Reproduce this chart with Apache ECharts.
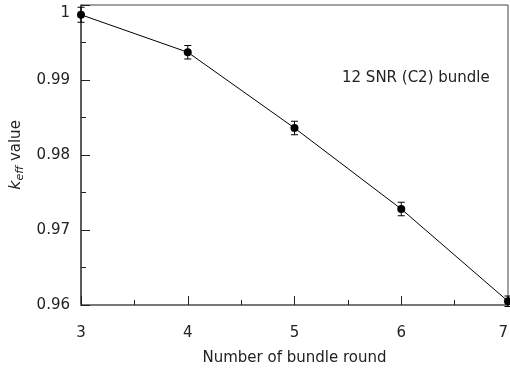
<!DOCTYPE html>
<html><head><meta charset="utf-8">
<script src="https://cdn.jsdelivr.net/npm/echarts@6/dist/echarts.min.js"></script>
<style>html,body{margin:0;padding:0;background:#fff}#c{width:510px;height:368px}</style>
</head><body><div id="c"></div>
<script>
const rounds = [3, 4, 5, 6, 7];
const keff = [0.9987, 0.9937, 0.9836, 0.9728, 0.9605];
const errs = [0.0010, 0.0009, 0.0009, 0.0009, 0.0007];
const xTicks = [3, 4, 5, 6, 7];
const yTicks = [0.96, 0.97, 0.98, 0.99, 1];
const note = '12 SNR (C2) bundle';

const FONT = 'DejaVu Sans';
const chart = echarts.init(document.getElementById('c'), null, {renderer: 'canvas'});
const pts = rounds.map((r, i) => [r, keff[i]]);
const errData = rounds.map((r, i) => [r, keff[i] - errs[i], keff[i] + errs[i]]);

chart.setOption({
  animation: false,
  grid: {left: 81, right: 2, top: 5, bottom: 63, show: true, borderColor: '#444', borderWidth: 1,
    outerBoundsMode: 'none', containLabel: false},
  xAxis: {
    type: 'value', min: 3, max: 7, interval: 1,
    name: 'Number of bundle round', nameLocation: 'middle', nameGap: 46,
    nameTextStyle: {fontFamily: FONT, fontSize: 15, color: '#222'},
    axisLine: {show: true, lineStyle: {color: '#777', width: 2}},
    axisTick: {show: true, inside: true, length: 9, lineStyle: {color: '#222'}},
    minorTick: {show: true, splitNumber: 2, length: 5, lineStyle: {color: '#222'}},
    splitLine: {show: false},
    axisLabel: {fontFamily: FONT, fontSize: 15, color: '#222', margin: 21, alignMaxLabel: 'right',
      formatter: v => xTicks.includes(v) ? String(v) : ''}
  },
  yAxis: {
    type: 'value', min: 0.96, max: 1, interval: 0.01,
    name: '{k|k}{s|eff}{v| value}', nameLocation: 'middle', nameGap: 55, nameRotate: 90,
    nameTextStyle: {fontFamily: FONT, fontSize: 15, color: '#222',
      rich: {
        k: {fontFamily: FONT, fontSize: 16, fontStyle: 'italic', color: '#222'},
        s: {fontFamily: FONT, fontSize: 11, fontStyle: 'italic', color: '#222', verticalAlign: 'bottom', padding: [8, 0, 0, 0]},
        v: {fontFamily: FONT, fontSize: 15, color: '#222'}
      }},
    axisLine: {show: true, lineStyle: {color: '#444', width: 1.5}},
    axisTick: {show: true, inside: true, length: 9, lineStyle: {color: '#222'}},
    minorTick: {show: true, splitNumber: 2, length: 5, lineStyle: {color: '#222'}},
    splitLine: {show: false},
    axisLabel: {fontFamily: FONT, fontSize: 15, color: '#222', margin: 11,
      formatter: v => {
        const t = yTicks.find(y => Math.abs(y - v) < 1e-9);
        if (t === undefined) return '';
        return t === 1 ? '{top|1}' : String(t);
      },
      rich: {top: {fontFamily: FONT, fontSize: 15, color: '#222', padding: [16, 0, 0, 0]}}
    }
  },
  series: [
    {type: 'line', data: pts, symbol: 'circle', symbolSize: 8, clip: false,
      lineStyle: {color: '#000', width: 1}, itemStyle: {color: '#000'}, z: 3},
    {type: 'custom', data: errData, clip: false, z: 4,
      renderItem: (params, api) => {
        const x = api.value(0);
        const lo = api.coord([x, api.value(1)]);
        const hi = api.coord([x, api.value(2)]);
        const w = 3.5;
        const st = {stroke: '#000', lineWidth: 1};
        return {type: 'group', children: [
          {type: 'line', shape: {x1: lo[0], y1: lo[1], x2: hi[0], y2: hi[1]}, style: st},
          {type: 'line', shape: {x1: lo[0] - w, y1: lo[1], x2: lo[0] + w, y2: lo[1]}, style: st},
          {type: 'line', shape: {x1: hi[0] - w, y1: hi[1], x2: hi[0] + w, y2: hi[1]}, style: st}
        ]};
      },
      encode: {x: 0, y: [1, 2]}
    }
  ],
  graphic: [{type: 'text', left: 342, top: 71,
    style: {text: note, fontFamily: FONT, fontSize: 15, fill: '#222'}}]
});
</script></body></html>
